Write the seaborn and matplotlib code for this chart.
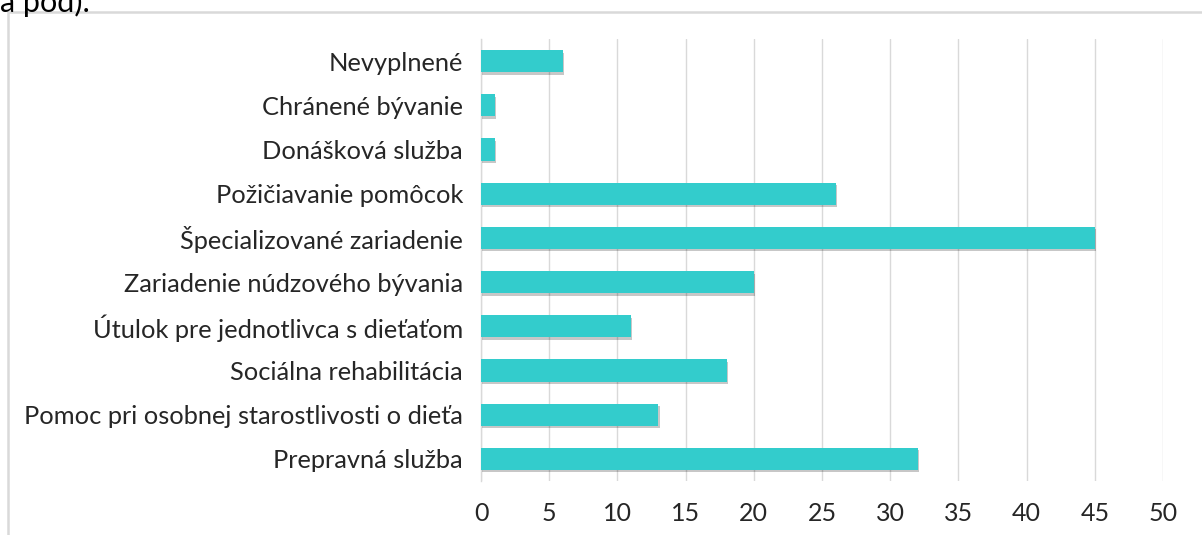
import pandas as pd
import matplotlib.pyplot as plt
import matplotlib.patheffects as pe
from matplotlib.patches import Rectangle
import seaborn as sns

# ------------------------------
# Data
# ------------------------------
CATEGORIES = [
    "Nevyplnené",
    "Chránené bývanie",
    "Donášková služba",
    "Požičiavanie pomôcok",
    "Špecializované zariadenie",
    "Zariadenie núdzového bývania",
    "Útulok pre jednotlivca s dieťaťom",
    "Sociálna rehabilitácia",
    "Pomoc pri osobnej starostlivosti o dieťa",
    "Prepravná služba",
]
VALUES = [6, 1, 1, 26, 45, 20, 11, 18, 13, 32]
X_TICKS = [0, 5, 10, 15, 20, 25, 30, 35, 40, 45, 50]

BAR_COLOR = "#33cccc"
GRID_COLOR = "#d9d9d9"
TEXT_COLOR = "#262626"

df = pd.DataFrame({"category": CATEGORIES, "value": VALUES})

sns.set_theme(style="white")
plt.rcParams["font.family"] = ["Lato", "DejaVu Sans"]

fig = plt.figure(figsize=(12.02, 5.35), dpi=100)
ax = fig.add_axes([0.4002, 0.1009, 0.5674, 0.8262])

sns.barplot(
    data=df, x="value", y="category", orient="h",
    color=BAR_COLOR, width=0.5, saturation=1, linewidth=0, ax=ax, zorder=3,
)
for bar in ax.patches:
    bar.set_path_effects([
        pe.SimplePatchShadow(offset=(1.0, -1.8), shadow_rgbFace="black", alpha=0.22),
        pe.Normal(),
    ])

ax.set_xlim(0, 50)
ax.set_ylim(len(CATEGORIES) - 0.5, -0.5)
ax.set_xticks(X_TICKS)
ax.set_xticklabels([str(t) for t in X_TICKS])
ax.grid(True, axis="x", color=GRID_COLOR, linewidth=1, zorder=0)
ax.set_axisbelow(True)
for s in ["top", "right", "bottom"]:
    ax.spines[s].set_visible(False)
ax.spines["left"].set_color(GRID_COLOR)
ax.spines["left"].set_linewidth(1)
ax.set_xlabel("")
ax.set_ylabel("")
ax.tick_params(axis="x", length=0, pad=15, labelsize=18, labelcolor=TEXT_COLOR)
ax.tick_params(axis="y", length=0, pad=13, labelsize=18.3, labelcolor=TEXT_COLOR)

# chart frame and clipped caption above it
fig.patches.append(Rectangle(
    (8 / 1202, -0.05), 1.1, 1 - 12 / 535 + 0.05,
    transform=fig.transFigure, fill=False, edgecolor=GRID_COLOR, linewidth=1.8,
))
fig.text(0.0, 1.022, "a pod).", fontsize=22, color="black", va="top", ha="left")

plt.savefig("out.png", dpi=100)
